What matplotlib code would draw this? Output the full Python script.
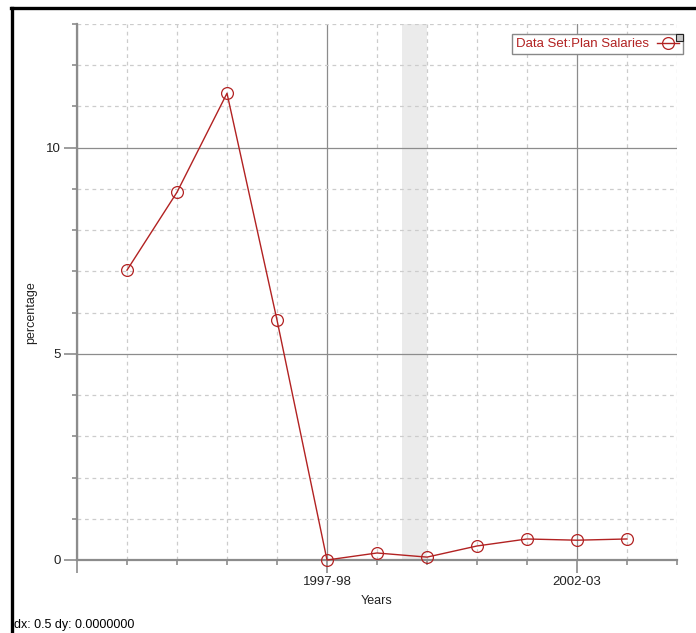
import matplotlib
matplotlib.use('Agg')
import matplotlib.pyplot as plt
import matplotlib.patches as patches
from matplotlib.lines import Line2D

plt.rcParams['font.family'] = ['Liberation Sans', 'DejaVu Sans']

# data
years = ['1993-94', '1994-95', '1995-96', '1996-97', '1997-98', '1998-99',
         '1999-00', '2000-01', '2001-02', '2002-03', '2003-04']
salaries = [7.03, 8.92, 11.32, 5.82, 0.0, 0.17, 0.07, 0.34, 0.51, 0.48, 0.51]
labelled_years = ['1997-98', '2002-03']
highlight = (5.5, 6.0)   # shaded band, in category units

RED = '#b22222'
GRID_MAJOR = '#8c8c8c'
GRID_MINOR = '#cccccc'

fig = plt.figure(figsize=(6.96, 6.33), dpi=100)
ax = fig.add_axes([77 / 696, 1 - 560 / 633, 600 / 696, 536 / 633])

xs = list(range(len(years)))
ax.set_xlim(-1, len(years))
ax.set_ylim(0, 13)

# shaded band
ax.axvspan(highlight[0], highlight[1], color='#ebebeb', zorder=0, lw=0)

# ticks
major_x = [-1] + [years.index(y) for y in labelled_years]
ax.set_xticks(major_x)
ax.set_xticklabels([''] + labelled_years)
ax.set_xticks(list(range(-1, len(years) + 1)), minor=True)
ax.set_yticks([0, 5, 10])
ax.set_yticks(range(0, 14), minor=True)

ax.tick_params(which='major', length=9.5, width=1.2, color=GRID_MAJOR,
               labelsize=9.5, labelcolor='#222222', pad=2)
ax.tick_params(which='minor', length=3.8, width=1.2, color=GRID_MAJOR)

# grid
ax.grid(which='minor', color=GRID_MINOR, linestyle=(0, (3, 3)), lw=0.9)
ax.grid(which='major', color=GRID_MAJOR, linestyle='-', lw=0.9)
ax.set_axisbelow(True)

for s in ['top', 'right']:
    ax.spines[s].set_visible(False)
for s in ['left', 'bottom']:
    ax.spines[s].set_color(GRID_MAJOR)
    ax.spines[s].set_linewidth(1.6)

# series
ax.plot(xs, salaries, color=RED, lw=1, marker='o', markersize=8.5,
        markerfacecolor='none', markeredgecolor=RED, markeredgewidth=0.9,
        clip_on=False, zorder=3)

ax.set_xlabel('Years', fontsize=9, color='#222222', labelpad=5)
ax.set_ylabel('percentage', fontsize=9, color='#222222')
ax.yaxis.set_label_coords(-0.066, 0.461)

# legend
h = Line2D([], [], color=RED, lw=1, marker='o', markersize=8.5,
           markerfacecolor='none', markeredgecolor=RED, markeredgewidth=0.9)
leg = fig.legend([h], ['Data Set:Plan Salaries'], loc='upper right',
                 bbox_to_anchor=(683 / 696, 1 - 34 / 633), markerfirst=False,
                 fancybox=False, framealpha=1, edgecolor='#888888',
                 fontsize=9.5, handlelength=1.7, handletextpad=0.6,
                 borderpad=0.3, borderaxespad=0)
for t in leg.get_texts():
    t.set_color(RED)
leg.get_frame().set_linewidth(1)

# small box at the legend corner
fig.patches.append(patches.Rectangle((676 / 696, 1 - 41 / 633), 7 / 696, 7 / 633,
                                     transform=fig.transFigure, facecolor='#c8c8c8',
                                     edgecolor='#222222', lw=0.8, zorder=10))

# outer frame (left and top)
fig.add_artist(Line2D([12 / 696, 12 / 696], [0, 1 - 8 / 633],
                      transform=fig.transFigure, color='black', lw=2.4))
fig.add_artist(Line2D([11 / 696, 1], [1 - 8 / 633, 1 - 8 / 633],
                      transform=fig.transFigure, color='black', lw=2.4))

fig.text(14 / 696, 1 - 625 / 633, 'dx: 0.5 dy: 0.0000000', fontsize=9,
         color='black', va='center', ha='left')

fig.savefig('out.png', dpi=100, facecolor='white')
